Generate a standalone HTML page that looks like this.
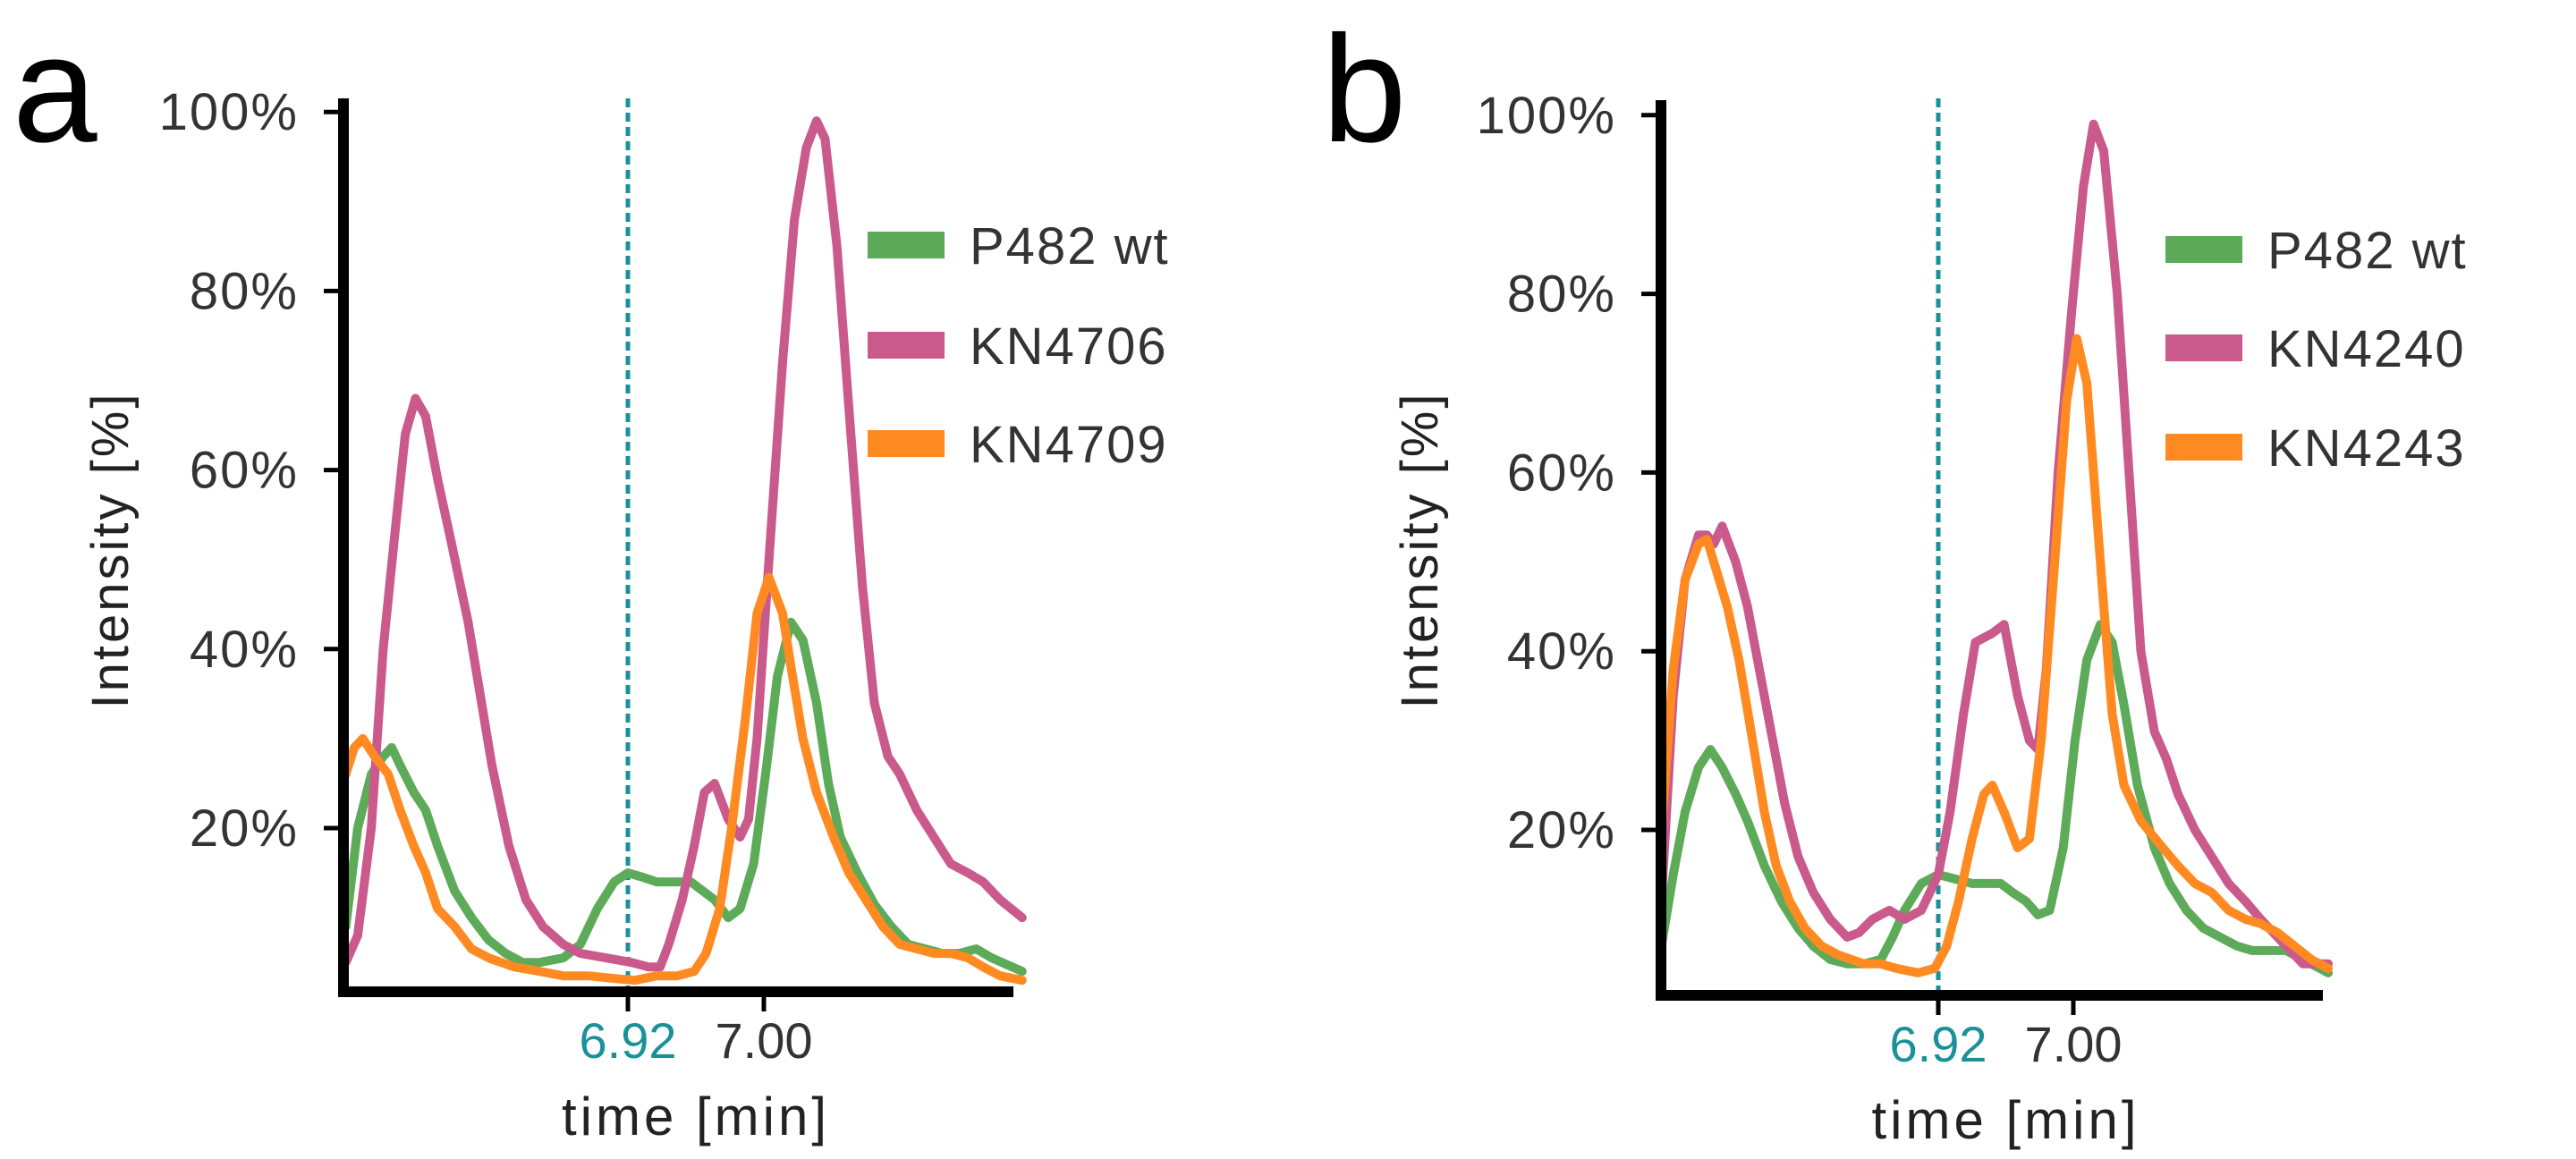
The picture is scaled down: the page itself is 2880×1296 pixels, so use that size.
<!DOCTYPE html>
<html><head><meta charset="utf-8"><style>
html,body{margin:0;padding:0;background:#fff;}
svg{display:block;font-family:"Liberation Sans","DejaVu Sans",sans-serif;}
</style></head><body>
<svg id="chart" width="2880" height="1296" viewBox="0 0 2880 1296" xmlns="http://www.w3.org/2000/svg"></svg>
<script>
// ---- Panel a data ----
const aGreenT=[6.754,6.761,6.769,6.776,6.781,6.786,6.794,6.801,6.808,6.818,6.828,6.838,6.848,6.858,6.868,6.882,6.892,6.902,6.912,6.920,6.929,6.937,6.947,6.957,6.964,6.971,6.979,6.986,6.994,7.001,7.008,7.016,7.023,7.031,7.038,7.045,7.055,7.065,7.075,7.085,7.095,7.105,7.115,7.125,7.134,7.152];
const aGreenV=[9,20,26,28,29,27,24,22,18,13,10,7.5,6,5,5,5.5,7,11,14,15,14.5,14,14,14,13,12,10,11,16,26,37,43,41,34,25,19,15,11.5,9,7,6.5,6,6,6.5,5.5,4];
const aPinkT=[6.754,6.761,6.769,6.776,6.784,6.789,6.795,6.801,6.808,6.816,6.826,6.833,6.840,6.850,6.860,6.870,6.882,6.892,6.907,6.922,6.932,6.939,6.944,6.952,6.959,6.965,6.971,6.979,6.986,6.991,6.996,7.003,7.011,7.018,7.025,7.031,7.036,7.043,7.050,7.058,7.065,7.073,7.080,7.090,7.100,7.110,7.120,7.129,7.139,7.152];
const aPinkV=[5,8,20,40,55,64,68,66,59,52,43,35,27,18,12,9,7,6,5.5,5,4.5,4.5,7,12,18,24,25,21,19,21,30,50,72,88,96,99,97,85,67,47,34,28,26,22,19,16,15,14,12,10];
const aOrangeT=[6.754,6.759,6.764,6.771,6.779,6.786,6.794,6.801,6.808,6.818,6.828,6.838,6.853,6.868,6.882,6.897,6.912,6.924,6.937,6.949,6.959,6.966,6.974,6.981,6.989,6.996,7.003,7.011,7.016,7.023,7.031,7.041,7.050,7.060,7.070,7.080,7.090,7.100,7.110,7.120,7.129,7.139,7.152];
const aOrangeV=[26,29,30,28,26,22,18,15,11,9,6.5,5.5,4.5,4,3.5,3.5,3.2,3,3.5,3.5,4,6,11,20,32,44,48,44,38,30,24,19,15,12,9,7,6.5,6,6,5.5,4.5,3.5,3];
// ---- Panel b data ----
const bGreenT=[6.756,6.763,6.770,6.778,6.785,6.792,6.800,6.807,6.817,6.827,6.837,6.846,6.856,6.866,6.876,6.886,6.893,6.900,6.910,6.920,6.930,6.940,6.949,6.957,6.964,6.972,6.979,6.986,6.994,7.001,7.008,7.016,7.023,7.030,7.038,7.048,7.057,7.067,7.077,7.087,7.097,7.106,7.116,7.126,7.136,7.151];
const bGreenV=[7,15,22,27,29,27,24,21,16,12,9,7,5.5,5,5,5.5,8,11,14,15,14.5,14,14,14,13,12,10.5,11,18,30,39,43,41,34,25,18,14,11,9,8,7,6.5,6.5,6.5,5.5,4];
const bPinkT=[6.756,6.763,6.770,6.778,6.783,6.787,6.792,6.800,6.807,6.814,6.822,6.829,6.837,6.846,6.856,6.866,6.873,6.881,6.891,6.900,6.910,6.920,6.927,6.935,6.942,6.952,6.959,6.967,6.974,6.979,6.984,6.991,6.999,7.006,7.012,7.018,7.026,7.033,7.040,7.048,7.055,7.062,7.072,7.082,7.092,7.102,7.111,7.121,7.136,7.151];
const bPinkV=[12,35,48,53,53,52,54,50,45,38,30,23,17,13,10,8,8.5,10,11,10,11,15,22,33,41,42,43,35,30,29,38,60,78,92,99,96,80,60,40,31,28,24,20,17,14,12,10,8,5,5];
const bOrangeT=[6.756,6.763,6.770,6.778,6.783,6.787,6.795,6.802,6.810,6.817,6.824,6.832,6.841,6.851,6.861,6.876,6.886,6.895,6.908,6.918,6.925,6.932,6.940,6.947,6.952,6.959,6.967,6.974,6.981,6.989,6.996,7.002,7.008,7.016,7.023,7.030,7.040,7.053,7.062,7.072,7.082,7.092,7.102,7.111,7.121,7.131,7.141,7.151];
const bOrangeV=[20,38,48,52,52.5,50,45,39,30,22,16,12,9,7,6,5,5,4.5,4,4.5,7,12,19,24,25,22,18,19,30,50,68,75,70,50,33,25,21,18,16,14,13,11,10,9.5,8.5,7,5.5,4.5];
// ---- ticks / labels ----
const yTicks=[20,40,60,80,100];
const yTickLabels=["20%","40%","60%","80%","100%"];
const xTicks=[6.92,7.00];
const xTickLabels=["6.92","7.00"];
const legendA=["P482 wt","KN4706","KN4709"];
const legendB=["P482 wt","KN4240","KN4243"];

const NS="http://www.w3.org/2000/svg";
const svg=document.getElementById('chart');
function mk(tag,attrs,parent){const e=document.createElementNS(NS,tag);for(const k in attrs)e.setAttribute(k,attrs[k]);(parent||svg).appendChild(e);return e;}
const COLORS={green:"#5daa59",pink:"#c95a8b",orange:"#ff8a22"};

function panel(cfg){
  const g=mk('g',{});
  
  
  const X=t=>cfg.x0+(t-6.92)*cfg.pxPerMin;
  const Y=v=>cfg.y20-(v-20)*cfg.pxPerPct;
  const L=mk('text',{x:cfg.letterX,y:158,'font-size':170,fill:'#000'},g);L.textContent=cfg.id;
  
  
  const d=mk('line',{x1:X(6.92),x2:X(6.92),y1:110,y2:cfg.axisY,stroke:'#1a9199','stroke-width':5,'stroke-dasharray':'10 6'},g);
  
  
  cfg.series.forEach(s=>{
    const p=s.t.map((t,i)=>(i?'L':'M')+X(t).toFixed(1)+' '+Y(s.v[i]).toFixed(1)).join(' ');
    const path=mk('path',{d:p,fill:'none',stroke:s.color,'stroke-width':10,'stroke-linejoin':'round','stroke-linecap':'round'},g);
    
    
  });
  const ya=mk('line',{x1:cfg.axisX,x2:cfg.axisX,y1:cfg.axisTop,y2:cfg.axisY+6,stroke:'#000','stroke-width':12},g);
  
  
  const xa=mk('line',{x1:cfg.axisX-6,x2:cfg.axisRight,y1:cfg.axisY,y2:cfg.axisY,stroke:'#000','stroke-width':12},g);
  
  
  yTicks.forEach((v,i)=>{
    const tk=mk('line',{x1:cfg.axisX-22,x2:cfg.axisX,y1:Y(v),y2:Y(v),stroke:'#000','stroke-width':5},g);
    
    
    const tl=mk('text',{x:cfg.axisX-50,y:Y(v)+20,'font-size':58,fill:'#333','text-anchor':'end','letter-spacing':2},g);
    tl.textContent=yTickLabels[i];
    
    
  });
  xTicks.forEach((t,i)=>{
    const tk=mk('line',{x1:X(t),x2:X(t),y1:cfg.axisY,y2:cfg.axisY+22,stroke:'#000','stroke-width':5},g);
    
    
    const tl=mk('text',{x:X(t),y:cfg.axisY+74,'font-size':56,fill:i===0?'#1a9199':'#333','text-anchor':'middle'},g);
    tl.textContent=xTickLabels[i];
    
    
  });
  const xt=mk('text',{x:(X(6.92)+X(7.0))/2,y:cfg.axisY+160,'font-size':60,fill:'#222','text-anchor':'middle','letter-spacing':4},g);
  xt.textContent='time [min]';
  
  
  const yt=mk('text',{x:0,y:0,'font-size':58,fill:'#222','text-anchor':'middle','letter-spacing':3,transform:`translate(${cfg.ylabX},615) rotate(-90)`},g);
  yt.textContent='Intensity [%]';
  
  
  cfg.series.forEach((s,i)=>{
    const cy=cfg.legY[i];
    const sw=mk('rect',{x:cfg.legX,y:cy-15,width:86,height:30,fill:s.color},g);
    
    
    const lt=mk('text',{x:cfg.legX+114,y:cy+21,'font-size':58,fill:'#333','letter-spacing':2},g);
    lt.textContent=cfg.legend[i];
    
    
  });
}
panel({id:'a',x0:702,pxPerMin:1900,y20:926,pxPerPct:10.01,axisX:384,axisTop:110,axisY:1109,axisRight:1133,letterX:14,ylabX:143,
  legX:970,legY:[274,386,496],legend:legendA,
  series:[{name:'a-'+legendA[0],t:aGreenT,v:aGreenV,color:COLORS.green},{name:'a-'+legendA[1],t:aPinkT,v:aPinkV,color:COLORS.pink},{name:'a-'+legendA[2],t:aOrangeT,v:aOrangeV,color:COLORS.orange}]});
panel({id:'b',x0:2167,pxPerMin:1887.5,y20:928,pxPerPct:9.99,axisX:1857,axisTop:112,axisY:1113,axisRight:2597,letterX:1478,ylabX:1607,
  legX:2421,legY:[279,389,500],legend:legendB,
  series:[{name:'b-'+legendB[0],t:bGreenT,v:bGreenV,color:COLORS.green},{name:'b-'+legendB[1],t:bPinkT,v:bPinkV,color:COLORS.pink},{name:'b-'+legendB[2],t:bOrangeT,v:bOrangeV,color:COLORS.orange}]});
</script>
</body></html>
